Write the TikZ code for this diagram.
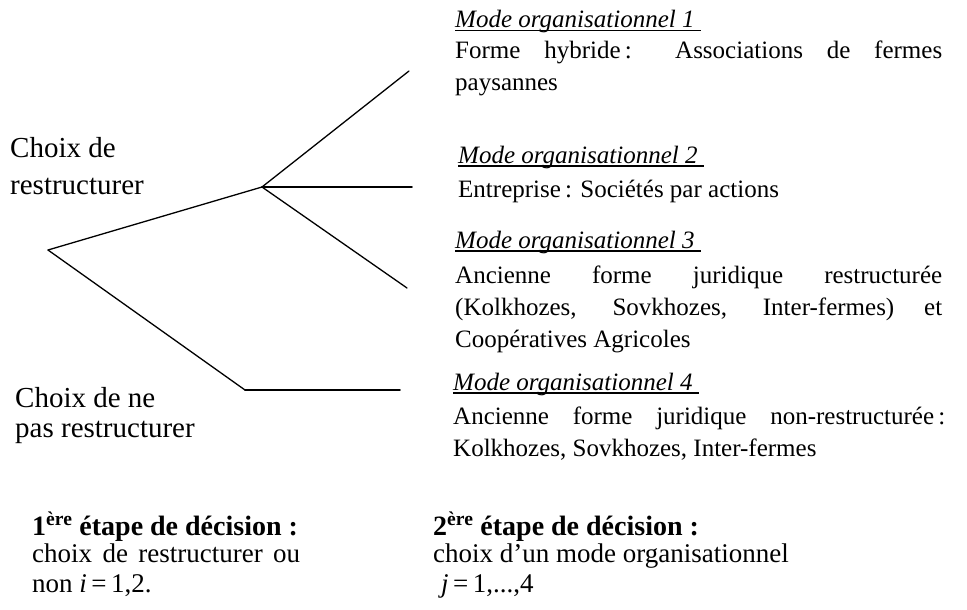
\documentclass[tikz,border=0pt]{standalone}
\usepackage{fontspec}
\setmainfont{Liberation Serif}
\usetikzlibrary{positioning}
\newcommand{\modetitle}[1]{\setbox0\hbox{\textit{#1}\ }\rlap{\rule[-3.5pt]{\wd0}{1.5pt}}\box0}
\newcommand{\stagehead}[1]{{\fontsize{28}{27}\selectfont\bfseries #1}}

\begin{document}
\begin{tikzpicture}[x=1pt,y=-1pt,
  branch/.style={line width=1.3pt,line cap=round,line join=round},
  choice/.style={anchor=base west,inner sep=0pt,align=left,font=\fontsize{29}{37}\selectfont},
  mode/.style={anchor=base west,inner sep=0pt,text width=487pt,align=justify,font=\fontsize{25}{32}\selectfont},
  stage/.style={anchor=base west,inner sep=0pt,align=left,font=\fontsize{27}{27}\selectfont}]
\useasboundingbox (0,0) rectangle (967,610);
% tree
\coordinate (root) at (48,250);
\coordinate (up) at (262,187);
\coordinate (down) at (245,390);
\coordinate (e1) at (409,71);
\coordinate (e2) at (412,187);
\coordinate (e3) at (407,288);
\coordinate (e4) at (400,390);
\draw[branch] (root) -- (up);
\foreach \e in {e1,e3}
  \draw[branch] (up) -- (\e);
\draw[branch,line width=1.8pt] (up) -- (e2);
\draw[branch] (root) -- (down);
\draw[branch,line width=1.8pt] (down) -- (e4);
% left choices
\node[choice] (yes) at (10,194) {Choix de\\restructurer};
\node[choice] (no) at (15,437) {Choix de ne\\[-7pt]pas restructurer};
% modes
\node[mode] (m1) at (455,28) {\modetitle{Mode organisationnel 1}\\[-1pt]
  Forme hybride\,: Associations de fermes\linebreak paysannes};
\node[mode] (m2) at (458,163) {\modetitle{Mode organisationnel 2}\\[2pt]
  Entreprise\,: Sociétés par actions};
\node[mode] (m3) at (455,248) {\modetitle{Mode organisationnel 3}\\[3pt]
  Ancienne forme juridique restructurée\linebreak
  (Kolkhozes, Sovkhozes, Inter-fermes) et\linebreak Coopératives Agricoles};
\node[mode,text width=492pt] (m4) at (453,390) {\modetitle{Mode organisationnel 4}\\[2pt]
  Ancienne forme juridique non-restructurée\,:\linebreak Kolkhozes, Sovkhozes, Inter-fermes};
% decision stages
\node[stage] (s1) at (32,592)
  {\stagehead{1\textsuperscript{ère} étape de décision :}\\
  \hbox to 268pt{choix\hfill de\hfill restructurer\hfill ou}\\[3pt]
  non \textit{i}\,=\,1,2.};
\node[stage] (s2) at (433,592)
  {\stagehead{2\textsuperscript{ère} étape de décision :}\\
  choix d’un mode organisationnel\\[3pt]\hspace*{8pt}\textit{j}\,=\,1,...,4};
\end{tikzpicture}
\end{document}
